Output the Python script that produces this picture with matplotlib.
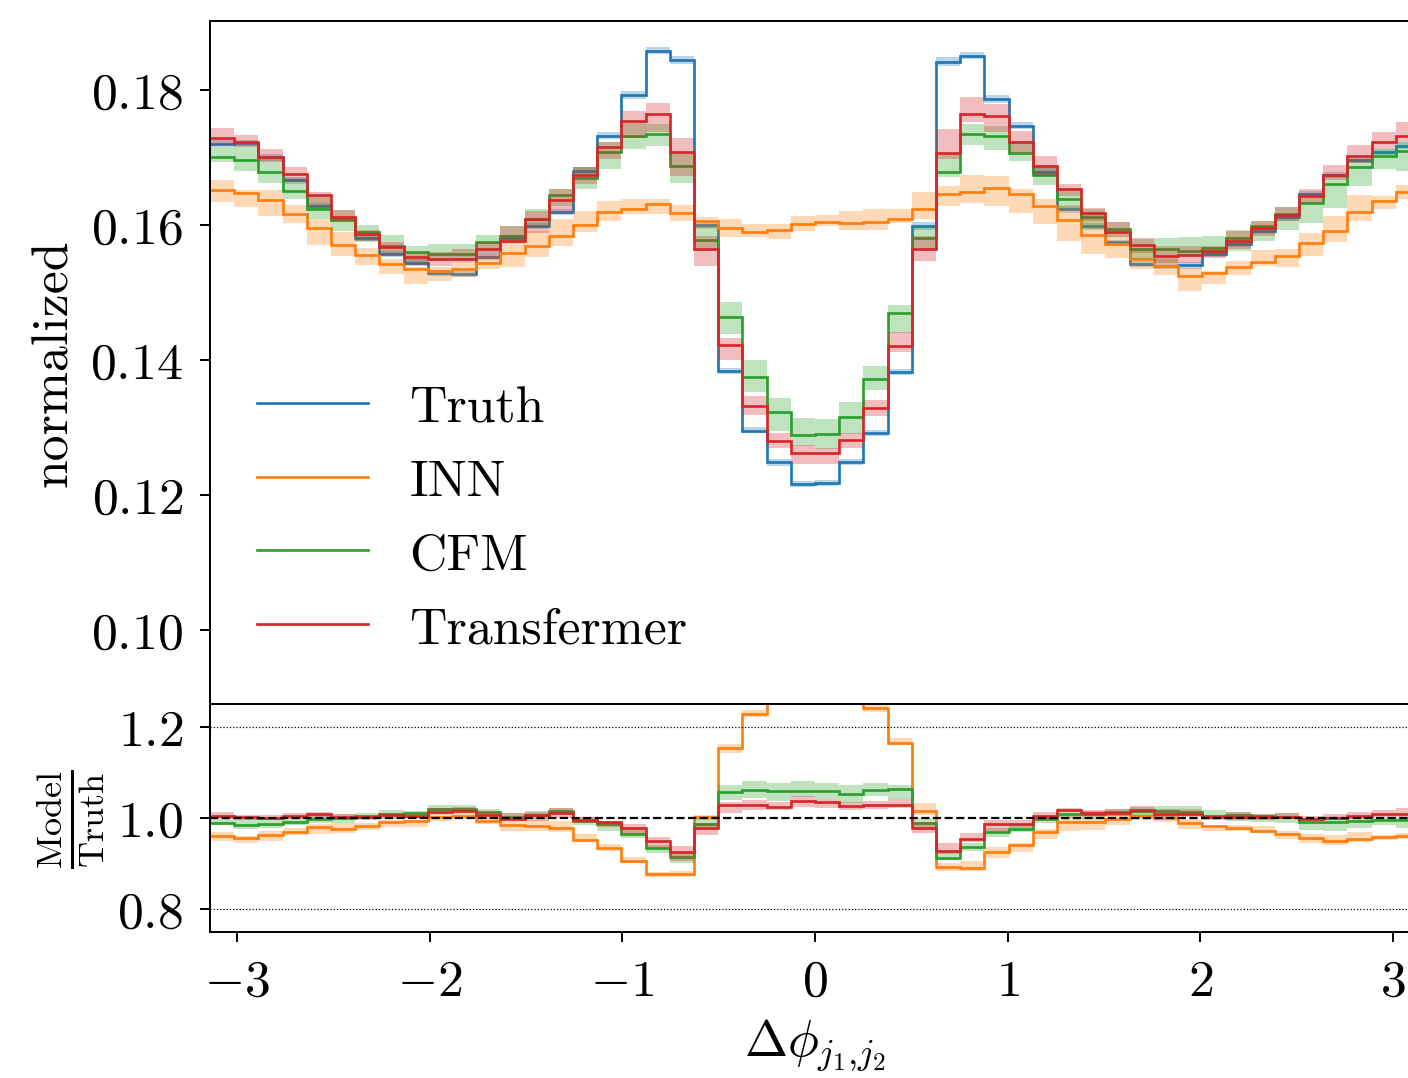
import numpy as np
import matplotlib
matplotlib.use('Agg')
import matplotlib.pyplot as plt

# Delta phi(j1, j2) histogram, 50 bins over [-pi, pi]
edges = np.linspace(-np.pi, np.pi, 51)

labels = ['Truth', 'INN', 'CFM', 'Transfermer']
colors = ['tab:blue', 'tab:orange', 'tab:green', 'tab:red']

truth = [0.1720, 0.1721, 0.1700, 0.1666, 0.1628, 0.1608, 0.1581, 0.1557, 0.1544, 0.1528,
         0.1527, 0.1553, 0.1581, 0.1598, 0.1619, 0.1680, 0.1732, 0.1792, 0.1858, 0.1844,
         0.1600, 0.1384, 0.1295, 0.1248, 0.1216, 0.1218, 0.1248, 0.1292, 0.1382, 0.1598,
         0.1841, 0.1850, 0.1786, 0.1747, 0.1679, 0.1623, 0.1598, 0.1574, 0.1542, 0.1539,
         0.1540, 0.1557, 0.1571, 0.1591, 0.1611, 0.1645, 0.1674, 0.1696, 0.1708, 0.1717]
inn = [0.1651, 0.1647, 0.1637, 0.1616, 0.1595, 0.1570, 0.1555, 0.1542, 0.1534, 0.1532,
       0.1534, 0.1544, 0.1558, 0.1569, 0.1584, 0.1600, 0.1619, 0.1624, 0.1631, 0.1618,
       0.1605, 0.1595, 0.1590, 0.1592, 0.1601, 0.1604, 0.1603, 0.1604, 0.1609, 0.1623,
       0.1645, 0.1649, 0.1654, 0.1645, 0.1628, 0.1607, 0.1585, 0.1571, 0.1550, 0.1539,
       0.1524, 0.1528, 0.1537, 0.1545, 0.1554, 0.1573, 0.1591, 0.1619, 0.1636, 0.1649]
cfm = [0.1701, 0.1696, 0.1679, 0.1650, 0.1623, 0.1607, 0.1589, 0.1569, 0.1560, 0.1557,
       0.1557, 0.1574, 0.1584, 0.1608, 0.1644, 0.1669, 0.1708, 0.1731, 0.1734, 0.1687,
       0.1578, 0.1464, 0.1374, 0.1322, 0.1288, 0.1290, 0.1315, 0.1372, 0.1469, 0.1580,
       0.1679, 0.1734, 0.1732, 0.1706, 0.1674, 0.1639, 0.1611, 0.1594, 0.1564, 0.1564,
       0.1561, 0.1565, 0.1581, 0.1598, 0.1616, 0.1632, 0.1660, 0.1685, 0.1702, 0.1710]
trans = [0.1728, 0.1723, 0.1701, 0.1675, 0.1644, 0.1611, 0.1586, 0.1567, 0.1552, 0.1549,
         0.1549, 0.1564, 0.1576, 0.1608, 0.1637, 0.1674, 0.1715, 0.1754, 0.1764, 0.1708,
         0.1564, 0.1422, 0.1332, 0.1279, 0.1262, 0.1262, 0.1281, 0.1329, 0.1420, 0.1564,
         0.1707, 0.1764, 0.1761, 0.1723, 0.1687, 0.1653, 0.1617, 0.1590, 0.1570, 0.1554,
         0.1555, 0.1561, 0.1576, 0.1596, 0.1614, 0.1642, 0.1674, 0.1702, 0.1722, 0.1731]

# band extent above / below each line, in units of 1e-3
truth_up = [0.5, 0.5, 0.5, 0.5, 0.4, 0.5, 0.5, 0.4, 0.5, 0.5,
            0.5, 0.5, 0.4, 0.5, 0.5, 0.5, 0.5, 0.6, 0.6, 0.6,
            0.5, 0.4, 0.5, 0.5, 0.4, 0.4, 0.5, 0.4, 0.5, 0.6,
            0.7, 0.6, 0.6, 0.5, 0.5, 0.5, 0.5, 0.4, 0.5, 0.5,
            0.5, 0.4, 0.5, 0.5, 0.5, 0.5, 0.5, 0.5, 0.5, 0.5]
truth_dn = [0.5, 0.4, 0.5, 0.5, 0.5, 0.4, 0.5, 0.5, 0.5, 0.4,
            0.5, 0.5, 0.5, 0.4, 0.5, 0.5, 0.5, 0.5, 0.5, 0.5,
            0.5, 0.5, 0.4, 0.5, 0.5, 0.5, 0.4, 0.5, 0.5, 0.5,
            0.6, 0.5, 0.5, 0.5, 0.4, 0.5, 0.5, 0.5, 0.4, 0.5,
            0.5, 0.5, 0.4, 0.5, 0.5, 0.4, 0.5, 0.5, 0.4, 0.5]
inn_up = [1.5, 0.5, 1.5, 1.3, 1.3, 1.9, 1.0, 0.8, 0.3, 0.5,
          1.0, 1.0, 1.3, 2.2, 2.5, 2.0, 1.6, 1.5, 0.7, 1.1,
          0.6, 1.4, 1.1, 0.9, 1.2, 1.1, 1.8, 1.9, 1.5, 2.6,
          1.3, 2.5, 1.9, 0.8, 1.1, 2.2, 2.9, 1.2, 1.6, 1.1,
          1.2, 0.3, 1.0, 1.8, 1.0, 1.5, 2.2, 2.5, 0.7, 1.0]
inn_dn = [1.7, 2.0, 2.4, 1.3, 2.5, 1.6, 1.5, 1.5, 2.2, 1.5,
          1.2, 1.0, 2.1, 1.7, 1.5, 1.0, 1.3, 0.8, 1.5, 1.2,
          1.1, 1.3, 0.8, 1.3, 1.0, 0.6, 1.1, 1.1, 0.6, 1.5,
          1.7, 1.6, 2.6, 2.7, 2.7, 3.1, 2.8, 2.0, 1.6, 1.4,
          2.2, 1.6, 1.2, 0.6, 1.7, 1.9, 1.7, 1.3, 1.2, 1.1]
cfm_up = [1.4, 2.2, 1.9, 2.0, 2.1, 1.5, 1.1, 1.6, 0.9, 1.5,
          1.5, 1.1, 1.4, 1.5, 0.9, 1.6, 1.4, 2.3, 1.5, 2.0,
          2.0, 2.1, 2.6, 2.1, 2.6, 2.2, 2.3, 1.9, 1.2, 1.9,
          2.6, 1.5, 1.5, 1.7, 1.4, 1.5, 1.2, 1.0, 1.5, 1.7,
          2.1, 1.8, 1.1, 0.7, 1.1, 1.2, 1.5, 1.2, 1.1, 1.2]
cfm_dn = [0.8, 1.6, 1.7, 1.1, 1.4, 1.6, 1.4, 1.2, 1.6, 1.0,
          0.7, 1.5, 1.0, 1.2, 1.6, 1.6, 2.6, 1.9, 1.7, 2.5,
          1.5, 2.6, 2.2, 2.7, 1.6, 2.2, 2.5, 1.7, 2.9, 1.8,
          0.8, 1.6, 2.1, 1.1, 1.5, 1.6, 1.7, 1.2, 1.5, 2.0,
          0.7, 1.1, 2.0, 2.2, 2.3, 3.0, 3.5, 2.8, 2.0, 3.0]
trans_up = [1.6, 1.0, 1.1, 1.0, 0.4, 1.1, 0.7, 0.7, 0.7, 1.1,
            1.5, 1.0, 2.2, 1.2, 1.6, 1.1, 0.7, 1.5, 1.7, 2.1,
            2.0, 1.1, 1.5, 1.3, 1.2, 0.8, 1.1, 1.2, 2.1, 2.0,
            3.5, 2.5, 1.8, 1.6, 1.5, 0.7, 0.8, 1.4, 1.1, 1.5,
            1.4, 0.7, 1.5, 1.0, 1.3, 1.1, 1.5, 1.6, 1.5, 2.2]
trans_dn = [1.0, 0.8, 0.8, 1.2, 1.7, 0.5, 1.0, 1.2, 1.2, 1.0,
            0.5, 1.5, 0.5, 2.0, 1.9, 1.3, 1.8, 2.5, 2.7, 3.6,
            2.5, 2.3, 1.4, 0.9, 1.6, 1.6, 1.1, 1.2, 0.9, 1.7,
            1.0, 1.2, 2.4, 1.6, 1.5, 1.0, 1.1, 0.8, 1.1, 1.0,
            1.1, 1.0, 1.2, 1.2, 0.8, 0.9, 0.8, 1.0, 1.0, 0.9]

plt.rcParams['font.family'] = 'cmr10'
plt.rcParams['mathtext.fontset'] = 'cm'
plt.rcParams['axes.formatter.use_mathtext'] = True
plt.rcParams['font.size'] = 10.6
plt.rcParams['axes.linewidth'] = 0.4
for ax_ in ['xtick', 'ytick']:
    plt.rcParams[ax_ + '.major.width'] = 0.4
    plt.rcParams[ax_ + '.major.size'] = 2.0

values = [np.array(truth), np.array(inn), np.array(cfm), np.array(trans)]
ups = [np.array(truth_up), np.array(inn_up), np.array(cfm_up), np.array(trans_up)]
dns = [np.array(truth_dn), np.array(inn_dn), np.array(cfm_dn), np.array(trans_dn)]

fig = plt.figure(figsize=(4.0, 3.0653), dpi=352)
ax1 = fig.add_axes([0.14915, 0.34662, 0.85938, 0.63299])
ax2 = fig.add_axes([0.14915, 0.13531, 0.85938, 0.21131], sharex=ax1)

t = values[0]
for i in range(4):
    v = values[i]
    hi = v + ups[i] * 1e-3
    lo = v - dns[i] * 1e-3
    ax1.stairs(hi, edges, baseline=lo, fill=True, color=colors[i], alpha=0.3, lw=0.5)
    ax1.stairs(v, edges, baseline=None, color=colors[i], lw=0.55, label=labels[i])
    if i > 0:
        ax2.stairs(hi / t, edges, baseline=lo / t, fill=True, color=colors[i], alpha=0.3, lw=0.5)
        ax2.stairs(v / t, edges, baseline=None, color=colors[i], lw=0.55)

ax1.set_xlim(-np.pi, np.pi)
ax1.set_ylim(0.0890, 0.1902)
ax1.set_yticks([0.10, 0.12, 0.14, 0.16, 0.18])
ax1.tick_params(axis='x', bottom=False, labelbottom=False)
ax1.set_ylabel('normalized')
ax1.yaxis.set_label_coords(-0.110, 0.5)
ax1.legend(loc='lower left', bbox_to_anchor=(0.0, 0.0073), frameon=False,
           handlelength=2.15, labelspacing=0.53, borderaxespad=0.5)

ax2.axhline(1.0, color='k', ls='--', lw=0.45)
ax2.axhline(0.8, color='k', ls=':', lw=0.25)
ax2.axhline(1.2, color='k', ls=':', lw=0.25)
ax2.set_ylim(0.75, 1.25)
ax2.set_yticks([0.8, 1.0, 1.2])
ax2.set_xticks([-3, -2, -1, 0, 1, 2, 3])
ax2.set_ylabel(r'$\frac{\mathrm{Model}}{\mathrm{Truth}}$')
ax2.yaxis.set_label_coords(-0.086, 0.5)
ax2.set_xlabel(r'$\Delta\phi_{j_1{,}j_2}$', labelpad=2.5)

fig.savefig('out.png', dpi=352)
